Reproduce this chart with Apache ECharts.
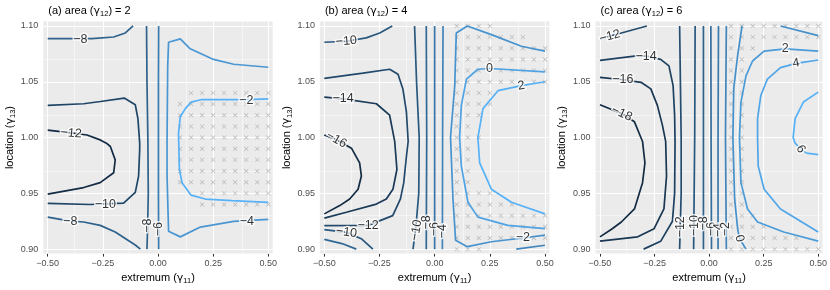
<!DOCTYPE html>
<html><head><meta charset="utf-8">
<script src="https://cdn.jsdelivr.net/npm/echarts@6.0.0/dist/echarts.min.js"></script>
<style>html,body{margin:0;padding:0;background:#fff}#c{width:830px;height:290px}</style>
</head><body><div id="c"></div><script>
// ---------- tick values ----------
const xTicks = [-0.5, -0.25, 0, 0.25, 0.5];
const xMinor = [-0.375, -0.125, 0.125, 0.375];
const yTicks = [0.90, 0.95, 1.00, 1.05, 1.10];
const yMinor = [0.925, 0.975, 1.025, 1.075];
const panelTags = ['(a)', '(b)', '(c)'];
const panelArea = [2, 4, 6];

// ---------- panel (a) contours ----------
const A_m12 = [[-0.5,1.0067],[-0.413,1.0047],[-0.322,1.0023],[-0.262,0.9979],[-0.234,0.995],[-0.216,0.992],[-0.194,0.980],[-0.201,0.9684],[-0.262,0.9596],[-0.337,0.9552],[-0.5,0.9493]];
const A_m10 = [[-0.5,1.0288],[-0.337,1.0303],[-0.261,1.0323],[-0.153,1.0354],[-0.103,1.0294],[-0.091,1.017],[-0.083,0.995],[-0.083,0.989],[-0.088,0.9655],[-0.103,0.9508],[-0.156,0.9413],[-0.307,0.940],[-0.5,0.941]];
const A_m8t = [[-0.5,1.0886],[-0.30,1.0886],[-0.201,1.0901],[-0.148,1.0937],[-0.113,1.10]];
const A_m8b = [[-0.5,0.9287],[-0.398,0.9251],[-0.337,0.9243],[-0.262,0.9213],[-0.194,0.9154],[-0.103,0.9037],[-0.08,0.90]];
const A_m8v = [[-0.052,1.10],[-0.050,1.05],[-0.046,1.00],[-0.044,0.95],[-0.047,0.92],[-0.050,0.90]];
const A_m6v = [[0.003,1.10],[0.002,1.05],[0.002,1.00],[0.002,0.95],[0.003,0.90]];
const A_m4 = [[0.5,1.063],[0.343,1.0657],[0.252,1.070],[0.146,1.0795],[0.101,1.0884],[0.048,1.0854],[0.044,1.064],[0.041,0.9965],[0.041,0.9655],[0.048,0.916],[0.101,0.911],[0.192,0.9198],[0.343,0.9249],[0.5,0.9267]];
const A_m2 = [[0.5,1.0347],[0.403,1.0340],[0.199,1.0341],[0.150,1.0318],[0.124,1.0259],[0.101,1.0186],[0.093,1.0038],[0.097,0.9714],[0.109,0.9596],[0.150,0.9484],[0.214,0.9449],[0.335,0.9434],[0.5,0.9419]];
const levelsA = [-12, -10, -8, -6, -4, -2];
const linesA = [[-12, A_m12], [-10, A_m10], [-8, A_m8t], [-8, A_m8b], [-8, A_m8v], [-6, A_m6v], [-4, A_m4], [-2, A_m2]];
const labelsA = [['−8',-0.352,1.0878,0],['−12',-0.394,1.0038,-5],['−10',-0.239,0.9396,0],['−8',-0.398,0.9251,0],['−4',0.403,0.9249,0],['−2',0.40,1.0335,0],['−8',-0.047,0.921,90],['−6',0.001,0.918,90]];
const crossA = [
 [1.04,[0.15,0.20,0.25,0.30,0.35,0.40,0.45,0.50]],
 [1.03,[0.10,0.15,0.20,0.25,0.30,0.35,0.40,0.45,0.50]],
 [1.02,[0.10,0.15,0.20,0.25,0.30,0.35,0.40,0.45,0.50]],
 [1.01,[0.10,0.15,0.20,0.25,0.30,0.35,0.40,0.45,0.50]],
 [1.00,[0.10,0.15,0.20,0.25,0.30,0.35,0.40,0.45,0.50]],
 [0.99,[0.10,0.15,0.20,0.25,0.30,0.35,0.40,0.45,0.50]],
 [0.98,[0.10,0.15,0.20,0.25,0.30,0.35,0.40,0.45,0.50]],
 [0.97,[0.10,0.15,0.20,0.25,0.30,0.35,0.40,0.45,0.50]],
 [0.96,[0.10,0.15,0.20,0.25,0.30,0.35,0.40,0.45,0.50]],
 [0.95,[0.20,0.25,0.30,0.35,0.40,0.45,0.50]],
 [0.94,[0.20,0.25,0.30,0.35,0.40,0.45,0.50]]
];

// ---------- panel (b) contours ----------
const B_m10t = [[-0.5,1.0854],[-0.40,1.0863],[-0.31,1.0893],[-0.249,1.0937],[-0.192,1.10]];
const B_m12 = [[-0.5,1.053],[-0.325,1.0577],[-0.204,1.0612],[-0.166,1.0568],[-0.144,1.0436],[-0.128,1.023],[-0.120,0.9965],[-0.128,0.983],[-0.140,0.9596],[-0.155,0.945],[-0.19,0.93],[-0.302,0.9213],[-0.5,0.921]];
const B_m14 = [[-0.5,1.0362],[-0.415,1.0347],[-0.264,1.0303],[-0.204,1.020],[-0.181,0.9965],[-0.171,0.9714],[-0.189,0.9537],[-0.219,0.9449],[-0.264,0.9404],[-0.40,0.9331],[-0.5,0.9278]];
const B_m16 = [[-0.5,1.0023],[-0.445,0.998],[-0.377,0.9905],[-0.34,0.9773],[-0.332,0.9655],[-0.347,0.9537],[-0.385,0.9449],[-0.43,0.939],[-0.5,0.9316]];
const B_m10b = [[-0.5,0.9175],[-0.40,0.9150],[-0.33,0.909],[-0.28,0.90]];
const B_m8b = [[-0.5,0.9087],[-0.42,0.905],[-0.355,0.90]];
const B_m10v = [[-0.091,1.10],[-0.082,1.05],[-0.070,1.00],[-0.072,0.95],[-0.085,0.92],[-0.098,0.90]];
const B_m8v = [[-0.038,1.10],[-0.036,1.00],[-0.037,0.95],[-0.038,0.90]];
const B_m6v = [[0.0,1.10],[0.0,1.00],[0.0,0.90]];
const B_m4v = [[0.038,1.10],[0.036,1.00],[0.035,0.90]];
const B_m4r = [[0.37,0.90],[0.5,0.9035]];
const B_m2 = [[0.5,1.0774],[0.393,1.0818],[0.257,1.0922],[0.148,1.100],[0.098,1.0937],[0.091,1.0465],[0.072,1.0],[0.083,0.9449],[0.095,0.908],[0.148,0.9022],[0.257,0.9066],[0.40,0.910],[0.5,0.9125]];
const B_0 = [[0.5,1.0589],[0.249,1.0619],[0.196,1.0612],[0.144,1.0524],[0.121,1.0288],[0.113,1.0],[0.121,0.9744],[0.151,0.942],[0.196,0.9287],[0.332,0.9213],[0.5,0.9183]];
const B_2 = [[0.5,1.050],[0.393,1.0465],[0.287,1.042],[0.219,1.0259],[0.196,1.0],[0.204,0.9773],[0.257,0.9537],[0.348,0.942],[0.5,0.9316]];
const levelsB = [-16, -14, -12, -10, -8, -6, -4, -2, 0, 2];
const linesB = [[-10,B_m10t],[-12,B_m12],[-14,B_m14],[-16,B_m16],[-10,B_m10b],[-8,B_m8b],[-10,B_m10v],[-8,B_m8v],[-6,B_m6v],[-4,B_m4v],[-4,B_m4r],[-2,B_m2],[0,B_0],[2,B_2]];
const labelsB = [['−10',-0.40,1.0863,5],['−14',-0.415,1.0347,0],['−16',-0.445,0.998,-30],['−12',-0.302,0.9213,0],['−10',-0.40,0.915,-8],['−10',-0.083,0.917,80],['−8',-0.037,0.924,90],['−6',0.0,0.918,90],['−4',0.035,0.916,90],['0',0.249,1.0619,0],['2',0.393,1.0465,10],['−2',0.40,0.910,0]];
const crossB = [
 [1.10,[0.10,0.15,0.20,0.25]],
 [1.09,[0.10,0.15,0.20,0.25,0.30,0.35,0.40]],
 [1.08,[0.10,0.15,0.20,0.25,0.30,0.35,0.40,0.45,0.50]],
 [1.07,[0.10,0.15,0.20,0.25,0.30,0.35,0.40,0.45,0.50]],
 [1.06,[0.10,0.15,0.20,0.25,0.30,0.35,0.40,0.45,0.50]],
 [1.05,[0.10,0.15,0.20,0.25,0.30,0.35,0.40,0.45,0.50]],
 [1.04,[0.10,0.15,0.20,0.25]],
 [1.03,[0.10,0.15,0.20,0.25]],
 [1.02,[0.10,0.15,0.20]],
 [1.01,[0.10,0.15]],
 [1.00,[0.10,0.15,0.20]],
 [0.99,[0.10,0.15]],
 [0.98,[0.10,0.15]],
 [0.97,[0.10,0.15]],
 [0.96,[0.10,0.15]],
 [0.95,[0.10,0.15,0.20,0.25]],
 [0.94,[0.10,0.15,0.20,0.25,0.30,0.35]],
 [0.93,[0.10,0.15,0.20,0.25,0.30,0.35,0.40,0.45,0.50]],
 [0.92,[0.10,0.15,0.20,0.25,0.30,0.35,0.40,0.45,0.50]],
 [0.91,[0.10,0.15,0.20,0.25,0.30,0.35,0.40,0.45,0.50]],
 [0.90,[0.10,0.15,0.20]]
];

// ---------- panel (c) contours ----------
const C_m12t = [[-0.5,1.0884],[-0.402,1.0937],[-0.285,1.10]];
const C_m14 = [[-0.5,1.0692],[-0.342,1.073],[-0.289,1.073],[-0.222,1.070],[-0.184,1.0642],[-0.165,1.0465],[-0.158,1.020],[-0.156,0.9965],[-0.158,0.95],[-0.168,0.925],[-0.222,0.907],[-0.30,0.90]];
const C_m16 = [[-0.5,1.0539],[-0.395,1.0518],[-0.312,1.0495],[-0.267,1.0436],[-0.237,1.0288],[-0.214,1.0111],[-0.199,0.9965],[-0.195,0.9655],[-0.207,0.936],[-0.252,0.9183],[-0.327,0.911],[-0.5,0.9072]];
const C_m18 = [[-0.5,1.0294],[-0.402,1.0215],[-0.342,1.0141],[-0.305,0.9965],[-0.294,0.9773],[-0.305,0.9596],[-0.342,0.936],[-0.402,0.9243],[-0.447,0.9178],[-0.5,0.911]];
const C_m12v = [[-0.135,1.10],[-0.128,1.00],[-0.128,0.95],[-0.135,0.90]];
const C_m10v = [[-0.064,1.10],[-0.066,1.00],[-0.071,0.90]];
const C_m8v = [[-0.026,1.10],[-0.026,1.00],[-0.026,0.90]];
const C_m6v = [[0.008,1.10],[0.009,1.00],[0.011,0.90]];
const C_m4v = [[0.043,1.10],[0.041,1.00],[0.041,0.90]];
const C_m2v = [[0.079,1.10],[0.075,1.00],[0.079,0.90]];
const C_0 = [[0.151,1.10],[0.131,1.0738],[0.113,1.0443],[0.109,1.0],[0.117,0.945],[0.131,0.918],[0.139,0.9095],[0.169,0.90]];
const C_0r = [[0.327,1.10],[0.5,1.0913]];
const C_2 = [[0.5,1.0774],[0.349,1.0795],[0.252,1.0774],[0.199,1.0686],[0.169,1.0553],[0.146,1.0318],[0.139,1.0],[0.146,0.9596],[0.176,0.936],[0.222,0.9243],[0.342,0.9154],[0.5,0.9072]];
const C_4 = [[0.5,1.0695],[0.399,1.0665],[0.327,1.0627],[0.267,1.0524],[0.237,1.0377],[0.222,1.017],[0.222,1.0],[0.225,0.9744],[0.252,0.9537],[0.327,0.936],[0.5,0.9154]];
const C_6 = [[0.5,1.0407],[0.432,1.0318],[0.394,1.017],[0.385,1.0],[0.394,0.995],[0.42,0.9897],[0.447,0.986],[0.5,0.9847]];
const levelsC = [-18, -16, -14, -12, -10, -8, -6, -4, -2, 0, 2, 4, 6];
const linesC = [[-12,C_m12t],[-14,C_m14],[-16,C_m16],[-18,C_m18],[-12,C_m12v],[-10,C_m10v],[-8,C_m8v],[-6,C_m6v],[-4,C_m4v],[-2,C_m2v],[0,C_0],[0,C_0r],[2,C_2],[4,C_4],[6,C_6]];
const labelsC = [['−12',-0.455,1.0907,15],['−14',-0.289,1.073,0],['−16',-0.395,1.0518,0],['−18',-0.40,1.0215,-25],['2',0.349,1.0795,0],['4',0.399,1.0665,10],['6',0.42,0.9897,-60],['0',0.139,0.9095,-75],['−12',-0.13,0.92,90],['−10',-0.068,0.921,90],['−8',-0.026,0.923,90],['−6',0.009,0.918,90],['−4',0.041,0.917,90],['−2',0.077,0.918,90]];
const crossC = [
 [1.10,[0.10,0.15,0.20,0.25,0.30,0.35,0.40,0.45,0.50]],
 [1.09,[0.10,0.15,0.20,0.25,0.30,0.35,0.40,0.45,0.50]],
 [1.08,[0.10,0.15,0.20]],
 [1.07,[0.10,0.15]],[1.06,[0.10,0.15]],[1.05,[0.10,0.15]],[1.04,[0.10,0.15]],[1.03,[0.10,0.15]],
 [1.02,[0.10,0.15]],[1.01,[0.10,0.15]],[1.00,[0.10,0.15]],[0.99,[0.10,0.15]],[0.98,[0.10,0.15]],
 [0.97,[0.10,0.15]],[0.96,[0.10,0.15]],[0.95,[0.10,0.15]],[0.94,[0.10,0.15]],
 [0.93,[0.10,0.15,0.20]],
 [0.92,[0.10,0.15,0.20,0.25]],
 [0.91,[0.10,0.15,0.20,0.25,0.30,0.35,0.40]],
 [0.90,[0.10,0.15,0.20,0.25,0.30,0.35,0.40,0.45,0.50]]
];

// ---------- build ----------
const FONT = '"Liberation Sans", Arial, Helvetica, sans-serif';
const LOW = [0x13,0x2B,0x43], HIGH = [0x56,0xB1,0xF7];
function levelColor(v, levels){
  const lo = Math.min(...levels), hi = Math.max(...levels);
  const t = (v - lo) / (hi - lo);
  const c = LOW.map((a,i)=>Math.round(a + (HIGH[i]-a)*t));
  return 'rgb(' + c.join(',') + ')';
}
function fmt(v){ const s = Math.abs(v).toFixed(2); return (v < -1e-9 ? '−' : '') + s; }
const crossPath = 'path://M0,1 L1,0 L5,4 L9,0 L10,1 L6,5 L10,9 L9,10 L5,6 L1,10 L0,9 L4,5 Z';
const richBase = {
  n: {fontSize: 11, color: '#000', fontFamily: FONT, fontWeight: 'normal'},
  g: {fontSize: 11, color: '#000', fontFamily: 'DejaVu Sans, sans-serif', fontWeight: 'normal'},
  s: {fontSize: 7.5, color: '#000', fontFamily: FONT, fontWeight: 'normal', padding: [6,0,0,0]}
};
const layout = [
  {left: 43.3, width: 229.4},
  {left: 319.9, width: 229.5},
  {left: 595.6, width: 230.6}
];
const allLines = [linesA, linesB, linesC];
const allLevels = [levelsA, levelsB, levelsC];
const allLabels = [labelsA, labelsB, labelsC];
const allCross = [crossA, crossB, crossC];

const option = {animation: false, backgroundColor: '#fff', title: [], grid: [], xAxis: [], yAxis: [], series: []};
for (let i = 0; i < 3; i++) {
  option.title.push({
    text: '{n|' + panelTags[i] + ' area (}{g|γ}{s|12}{n|) = ' + panelArea[i] + '}',
    left: layout[i].left, top: -1,
    textStyle: {fontWeight: 'normal', rich: richBase}
  });
  option.grid.push({left: layout[i].left, width: layout[i].width, top: 21.5, height: 236.4,
    show: true, backgroundColor: '#EBEBEB', borderWidth: 0});
  option.xAxis.push({
    gridIndex: i, type: 'value', min: -0.52, max: 0.52,
    axisLine: {show: false},
    axisTick: {show: true, length: 3, lineStyle: {color: '#333', width: 1}, customValues: xTicks},
    axisLabel: {customValues: xTicks, formatter: fmt, color: '#4D4D4D', fontSize: 9, margin: 5, fontFamily: FONT},
    splitLine: {show: false},
    name: '{n|extremum (}{g|γ}{s|11}{n|)}', nameLocation: 'middle', nameGap: 16,
    nameTextStyle: {rich: richBase}
  });
  option.yAxis.push({
    gridIndex: i, type: 'value', min: 0.896, max: 1.104,
    axisLine: {show: false},
    axisTick: {show: true, length: 3, lineStyle: {color: '#333', width: 1}, customValues: yTicks},
    axisLabel: {customValues: yTicks, formatter: fmt, color: '#4D4D4D', fontSize: 9, margin: 5, fontFamily: FONT},
    splitLine: {show: false},
    name: '{n|location (}{g|γ}{s|13}{n|)}', nameLocation: 'middle', nameGap: 26,
    nameTextStyle: {rich: richBase}
  });
  const gl = [];
  xMinor.forEach(v => gl.push({xAxis: v, lineStyle: {width: 0.5}}));
  yMinor.forEach(v => gl.push({yAxis: v, lineStyle: {width: 0.5}}));
  xTicks.forEach(v => gl.push({xAxis: v, lineStyle: {width: 1.1}}));
  yTicks.forEach(v => gl.push({yAxis: v, lineStyle: {width: 1.1}}));
  option.series.push({type: 'line', xAxisIndex: i, yAxisIndex: i, data: [], silent: true, z: 1,
    markLine: {silent: true, z: 1, symbol: ['none','none'], label: {show: false}, animation: false,
      lineStyle: {color: '#fff', type: 'solid'}, emphasis: {disabled: true}, data: gl}});
  const pts = [];
  allCross[i].forEach(r => r[1].forEach(x => pts.push([x, r[0]])));
  option.series.push({type: 'scatter', xAxisIndex: i, yAxisIndex: i, data: pts, symbol: crossPath,
    symbolSize: 4.5, itemStyle: {color: '#A9A9A9'}, silent: true, z: 3});
  allLines[i].forEach(l => option.series.push({type: 'line', xAxisIndex: i, yAxisIndex: i, data: l[1],
    showSymbol: false, symbol: 'none', silent: true, z: 5, clip: true,
    lineStyle: {color: levelColor(l[0], allLevels[i]), width: 1.7}}));
  option.series.push({type: 'scatter', xAxisIndex: i, yAxisIndex: i, symbolSize: 0, silent: true, z: 20,
    data: allLabels[i].map(l => ({name: l[0], value: [l[1], l[2]], label: {rotate: l[3]}})),
    label: {show: true, position: 'inside', formatter: '{b}', color: '#000', fontSize: 12.5, fontFamily: FONT,
      textBorderColor: '#fff', textBorderWidth: 3}});
}
const chart = echarts.init(document.getElementById('c'), null, {renderer: 'canvas'});
chart.setOption(option);
</script></body></html>
